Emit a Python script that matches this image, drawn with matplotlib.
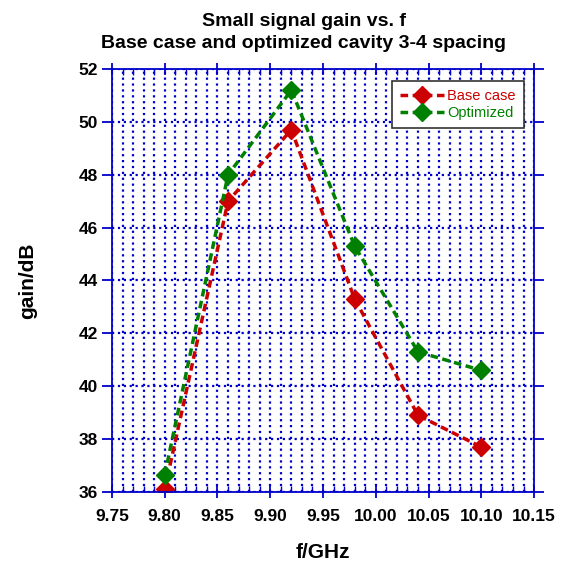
import matplotlib
matplotlib.use("Agg")
import matplotlib.pyplot as plt
from matplotlib.ticker import MultipleLocator

plt.rcParams['font.family'] = ['Liberation Sans', 'DejaVu Sans']

freq = [9.80, 9.86, 9.92, 9.98, 10.04, 10.10]
gain_base = [36.1, 47.0, 49.7, 43.3, 38.9, 37.7]
gain_opt = [36.65, 48.0, 51.2, 45.3, 41.3, 40.6]

blue = '#0000cc'

fig = plt.figure(figsize=(5.61, 5.62), dpi=100)
ax = fig.add_axes([0.1996, 0.1246, 0.7524, 0.7526])

ax.plot(freq, gain_base, '--D', color='#cc0000', lw=2.5, ms=9,
        dashes=(2.2, 1.3), label='Base case')
ax.plot(freq, gain_opt, '--D', color='#008000', lw=2.5, ms=9,
        dashes=(2.2, 1.3), label='Optimized')

ax.set_xlim(9.75, 10.15)
ax.set_ylim(36, 52)
ax.xaxis.set_major_locator(MultipleLocator(0.05))
ax.xaxis.set_minor_locator(MultipleLocator(0.01))
ax.yaxis.set_major_locator(MultipleLocator(2))
ax.set_xticklabels([f'{v:.2f}' for v in ax.get_xticks()])

ax.grid(which='major', axis='both', color=blue, ls=':', lw=1.6)
ax.grid(which='minor', axis='x', color=blue, ls=':', lw=1.6)

for s in ax.spines.values():
    s.set_color(blue)
    s.set_linewidth(1.3)

ax.tick_params(which='major', axis='x', direction='inout', length=9,
               color=blue, width=1.3, top=True, pad=8)
ax.tick_params(which='minor', axis='x', direction='in', length=4,
               color=blue, width=1, top=True)
ax.tick_params(which='major', axis='y', direction='out', length=7,
               color=blue, width=1.3, right=True, pad=3)
ax.tick_params(axis='both', labelsize=12.5)
for lab in ax.get_xticklabels() + ax.get_yticklabels():
    lab.set_fontweight('bold')

ax.set_xlabel('f/GHz', fontsize=15, fontweight='bold')
ax.xaxis.set_label_coords(0.5, -0.12)
ax.set_ylabel('gain/dB', fontsize=15, fontweight='bold')
ax.yaxis.set_label_coords(-0.178, 0.5)

fig.text(0.541, 0.942,
         'Small signal gain vs. f\nBase case and optimized cavity 3-4 spacing',
         ha='center', va='center', fontsize=14, fontweight='bold',
         linespacing=1.38)

leg = ax.legend(loc='upper right', bbox_to_anchor=(0.976, 0.971), fontsize=10.5,
                fancybox=False, framealpha=1, edgecolor='#333333',
                handlelength=3.0, handletextpad=0.25, borderpad=0.55,
                labelspacing=0.2, borderaxespad=0)
leg.get_frame().set_linewidth(1.2)
for t, c in zip(leg.get_texts(), ['#cc0000', '#008000']):
    t.set_color(c)

fig.savefig('out.png', dpi=100)
